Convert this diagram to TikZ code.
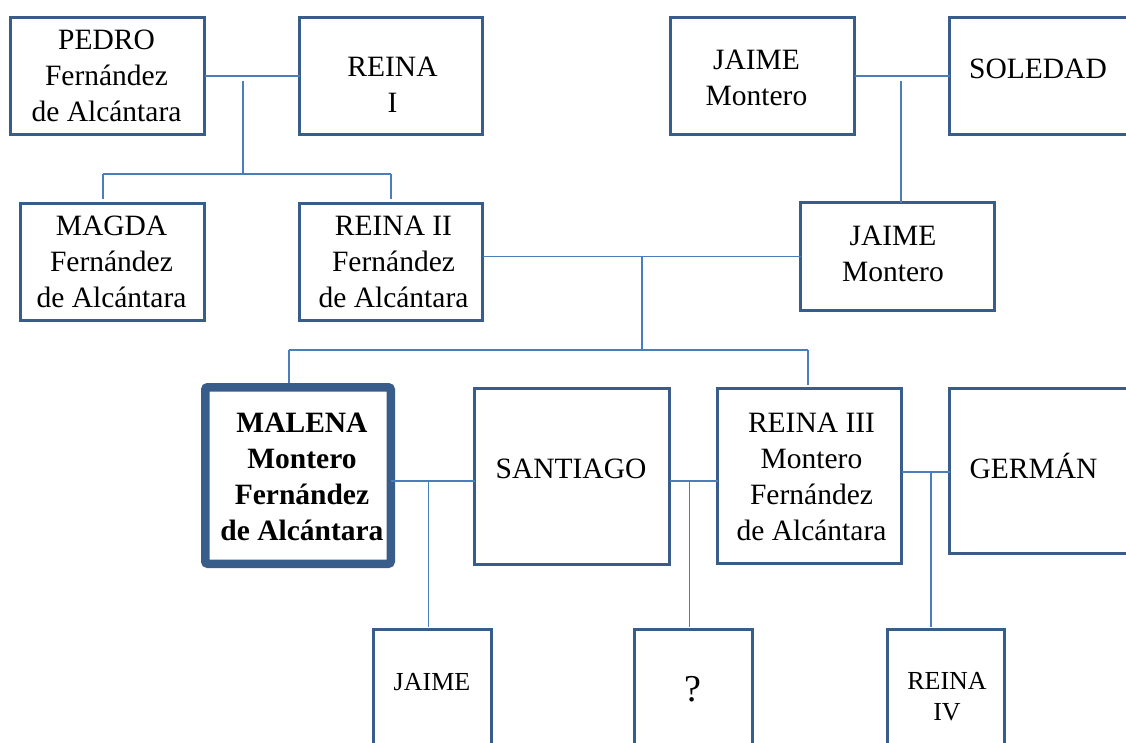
\documentclass[tikz,border=0pt]{standalone}
\usepackage{fontspec}
\setmainfont{Liberation Serif}
\definecolor{boxblue}{HTML}{385D8A}
\definecolor{linkblue}{HTML}{4A7EBB}
\begin{document}
\begin{tikzpicture}[x=1pt,y=-1pt,
  box/.style={draw=boxblue, line width=3pt, rectangle, inner sep=0pt, outer sep=0pt},
  egobox/.style={draw=boxblue, line width=8.5pt, rectangle, rounded corners=2.5pt, inner sep=0pt, outer sep=0pt},
  txt/.style={inner sep=0pt, outer sep=0pt, align=center, text=black, font=\fontsize{29.5}{36}\selectfont},
  small/.style={font=\fontsize{26}{31}\selectfont},
  conn/.style={draw=linkblue, line width=1.3pt}]
\clip (0,0) rectangle (1126,742);
\fill[white] (0,0) rectangle (1126,742);

% boxes
\node[box, minimum width=194pt, minimum height=117pt] (pedro) at (107.5,76) {};
\node[box, minimum width=183pt, minimum height=117pt] (reina1) at (391,76) {};
\node[box, minimum width=184pt, minimum height=117pt] (magda) at (112.5,262) {};
\node[box, minimum width=183pt, minimum height=117pt] (reina2) at (391,262) {};
\node[box, minimum width=184pt, minimum height=117pt] (jaime1) at (762.5,76) {};
\node[box, minimum width=184pt, minimum height=117pt] (soledad) at (1041.5,76) {};
\node[box, minimum width=194pt, minimum height=108pt] (jaime2) at (897.5,256.5) {};
\node[egobox, minimum width=185.5pt, minimum height=176.5pt] (malena) at (298,475.5) {};
\node[box, minimum width=195pt, minimum height=176pt] (santiago) at (572,476.5) {};
\node[box, minimum width=184pt, minimum height=175pt] (reina3) at (809.5,476) {};
\node[box, minimum width=184pt, minimum height=165pt] (german) at (1041.5,471) {};
\node[box, minimum width=118pt, minimum height=180pt] (jaime3) at (432.5,719.5) {};
\node[box, minimum width=118pt, minimum height=180pt] (q) at (693.5,719.5) {};
\node[box, minimum width=117pt, minimum height=180pt] (reina4) at (946,719.5) {};

% texts
\node[txt] (pedroT) at (106.5,75.8) {PEDRO\\Fernández\\de Alcántara};
\node[txt] (reina1T) at (392.5,85) {REINA\\I};
\node[txt] (magdaT) at (111.5,261.7) {MAGDA\\Fernández\\de Alcántara};
\node[txt] (reina2T) at (393.5,261.7) {REINA II\\Fernández\\de Alcántara};
\node[txt] (jaime1T) at (756.5,77.5) {JAIME\\Montero};
\node[txt, anchor=base] (soledadT) at (1038,78.3) {SOLEDAD};
\node[txt] (jaime2T) at (893,254.2) {JAIME\\Montero};
\node[txt, font=\bfseries\fontsize{29.5}{36}\selectfont] (malenaT) at (302,476.5) {MALENA\\Montero\\Fernández\\de Alcántara};
\node[txt, anchor=base] (santiagoT) at (571,478.3) {SANTIAGO};
\node[txt] (reina3T) at (811.5,476.5) {REINA III\\Montero\\Fernández\\de Alcántara};
\node[txt, anchor=base] (germanT) at (1033.5,478.3) {GERMÁN};
\node[txt, small, anchor=base] (jaime3T) at (432,690) {JAIME};
\node[txt, anchor=base, font=\fontsize{38}{44}\selectfont] (qT) at (693,701.7) {?};
\node[txt, small] (reina4T) at (947,697) {REINA\\IV};

% Pedro + Reina I
\draw[conn] (pedro.east) -- (reina1.west);
\coordinate (pJ) at (243,81);
\coordinate (pK) at (243,174);
\coordinate (pL) at (103,174);
\coordinate (pR) at (391,174);
\draw[conn] (pJ) -- (pK);
\draw[conn] (pL) -- (pR);
\draw[conn, shorten >=5pt] (pL) -- (pL |- magda.north);
\draw[conn, shorten >=5pt] (pR) -- (pR |- reina2.north);

% Jaime + Soledad
\draw[conn] (jaime1.east) -- (soledad.west);
\coordinate (jJ) at (901,81);
\draw[conn] (jJ) -- (jJ |- jaime2.north);

% Reina II + Jaime
\draw[conn] (jaime2.west) -- (jaime2.west -| reina2.east);
\coordinate (mJ) at (642,256.5);
\coordinate (mK) at (642,350);
\coordinate (mL) at (289,350);
\coordinate (mR) at (808,350);
\draw[conn] (mJ) -- (mK);
\draw[conn] (mL) -- (mR);
\draw[conn, shorten >=4pt] (mL) -- (mL |- malena.north);
\draw[conn, shorten >=4pt] (mR) -- (mR |- reina3.north);

% Malena + Santiago
\coordinate (msJ) at (428.5,481);
\draw[conn] (msJ -| malena.east) -- (msJ -| santiago.west);
\draw[conn, shorten >=3pt] (msJ) -- (msJ |- jaime3.north);

% Santiago + Reina III
\coordinate (srJ) at (689.5,481);
\draw[conn] (srJ -| santiago.east) -- (srJ -| reina3.west);
\draw[conn, shorten >=3pt] (srJ) -- (srJ |- q.north);

% Reina III + German
\coordinate (rgJ) at (931,472);
\draw[conn] (rgJ -| reina3.east) -- (rgJ -| german.west);
\draw[conn, shorten >=3pt] (rgJ) -- (rgJ |- reina4.north);
\end{tikzpicture}
\end{document}
